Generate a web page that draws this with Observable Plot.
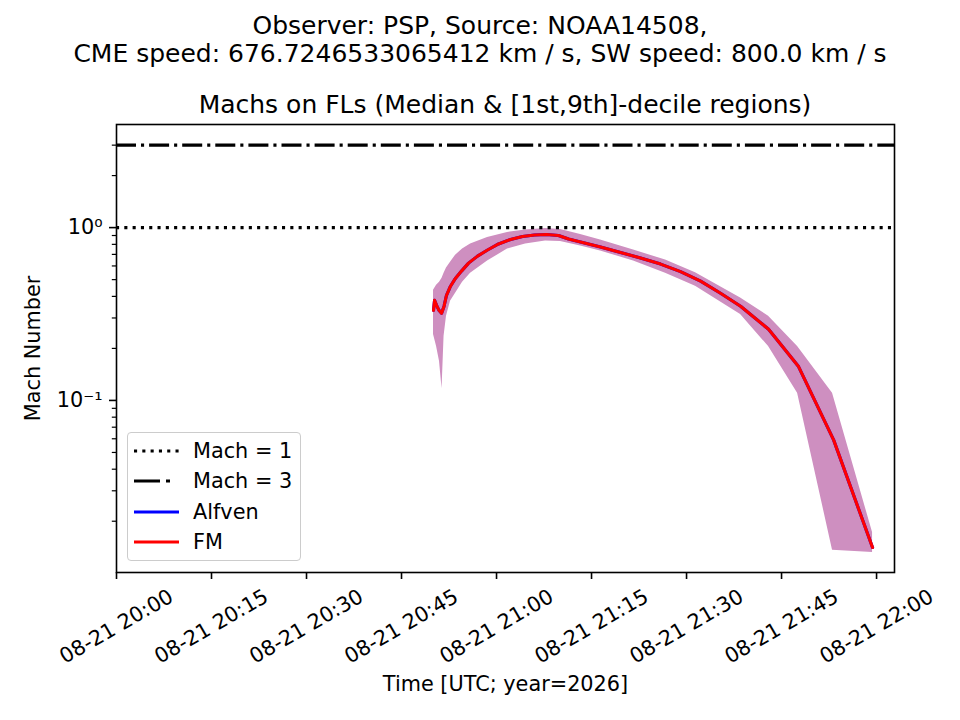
<!DOCTYPE html>
<html>
<head>
<meta charset="utf-8">
<script src="https://cdn.jsdelivr.net/npm/d3@7"></script>
<script src="https://cdn.jsdelivr.net/npm/@observablehq/plot@0.6"></script>
<style>
  body { margin: 0; background: #fff; font-family: "DejaVu Sans", sans-serif; }
  #wrap { position: relative; width: 960px; height: 720px; overflow: hidden; }
  #chart { position: absolute; left: 0; top: 0; }
  .t { position: absolute; text-align: center; font-size: 25px; line-height: 28px; color: #000; white-space: nowrap; }
  #legend { position: absolute; left: 127px; top: 432px; width: 172px; height: 127px;
            border: 1px solid #cccccc; border-radius: 4px; background: rgba(255,255,255,0.8); }
  .row { position: absolute; left: 0; height: 30px; width: 172px; }
  .row svg { position: absolute; left: 5px; top: 0; }
  .row span { position: absolute; left: 65px; top: 0; font-size: 20.8px; line-height: 30px; color: #000; }
</style>
</head>
<body>
<div id="wrap">
  <div id="chart"></div>
  <div class="t" style="left:0;width:960px;top:12px">Observer: PSP, Source: NOAA14508,<br>CME speed: 676.7246533065412 km / s, SW speed: 800.0 km / s</div>
  <div class="t" style="left:116px;width:778px;top:91px">Machs on FLs (Median &amp; [1st,9th]-decile regions)</div>
  <div id="legend"></div>
</div>
<script>
// ---- data ----
const bandTimes = ["20:50:03","20:50:32","20:51:00","20:51:24","20:51:43","20:52:06","20:52:44","20:53:32","20:54:38","20:55:54","20:58:35","21:01:44","21:04:35","21:07:44","21:10:06","21:13:16","21:16:25","21:21:38","21:26:41","21:31:25","21:38:32","21:42:57","21:47:32","21:53:03","21:59:22"];
const bandHigh = [0.434,0.464,0.483,0.510,0.545,0.583,0.631,0.693,0.752,0.804,0.877,0.938,0.970,0.989,0.976,0.913,0.848,0.742,0.649,0.548,0.392,0.307,0.205,0.110,0.0172];
const bandLow  = [0.241,0.205,0.168,0.117,0.235,0.307,0.375,0.417,0.483,0.545,0.640,0.752,0.804,0.837,0.832,0.783,0.733,0.640,0.545,0.458,0.314,0.205,0.110,0.0136,0.0132];

const medTimes = ["20:50:03","20:50:13","20:50:32","20:50:55","20:51:19","20:51:43","20:52:06","20:52:44","20:53:32","20:54:28","20:55:35","20:57:00","20:58:35","21:00:19","21:02:13","21:04:06","21:06:00","21:07:54","21:09:47","21:11:22","21:13:16","21:16:25","21:19:35","21:22:44","21:25:54","21:29:03","21:32:13","21:35:22","21:38:32","21:42:57","21:47:41","21:53:13","21:59:22"];
const fmMedian     = [0.332,0.380,0.355,0.332,0.319,0.351,0.406,0.458,0.510,0.560,0.623,0.684,0.742,0.804,0.854,0.889,0.907,0.913,0.901,0.860,0.826,0.773,0.718,0.667,0.615,0.556,0.490,0.417,0.351,0.258,0.157,0.0591,0.0141];
const alfvenMedian = [0.332,0.380,0.355,0.332,0.319,0.351,0.406,0.458,0.510,0.560,0.623,0.684,0.742,0.804,0.854,0.889,0.907,0.913,0.901,0.860,0.826,0.773,0.718,0.667,0.615,0.556,0.490,0.417,0.351,0.258,0.157,0.0591,0.0141];

const xTickTimes = ["20:00:00","20:15:00","20:30:00","20:45:00","21:00:00","21:15:00","21:30:00","21:45:00","22:00:00"];
const xDomain = ["20:00:00","22:02:50"];
const yDomain = [0.0101, 3.95];
const yMajorTicks = [0.1, 1];
const yMajorLabels = ["10⁻¹", "10⁰"];
const yMinorTicks = [0.02,0.03,0.04,0.05,0.06,0.07,0.08,0.09,0.2,0.3,0.4,0.5,0.6,0.7,0.8,0.9,2,3];
const machLevels = [1, 3];
const legendLabels = ["Mach = 1", "Mach = 3", "Alfven", "FM"];

// ---- build ----
const parse = s => new Date(`2026-08-21T${s}Z`);
const band = bandTimes.map((t, i) => ({t: parse(t), lo: bandLow[i], hi: bandHigh[i]}));
const fm = medTimes.map((t, i) => ({t: parse(t), v: fmMedian[i]}));
const alf = medTimes.map((t, i) => ({t: parse(t), v: alfvenMedian[i]}));
const xTicks = xTickTimes.map(parse);
const fmtHM = d3.utcFormat("%H:%M");

const chart = Plot.plot({
  width: 960, height: 720,
  marginLeft: 116, marginRight: 66, marginTop: 124, marginBottom: 148,
  style: {fontFamily: "DejaVu Sans", fontSize: "20.8px", background: "white", color: "black", overflow: "visible"},
  x: {type: "utc", domain: xDomain.map(parse), label: null},
  y: {type: "log", domain: yDomain, label: null},
  marks: [
    Plot.areaY(band, {x: "t", y1: "lo", y2: "hi", fill: "#ce8fc0", curve: "linear"}),
    Plot.ruleY([machLevels[0]], {stroke: "black", strokeWidth: 3.1, strokeDasharray: "3.1,5.2"}),
    Plot.ruleY([machLevels[1]], {stroke: "black", strokeWidth: 3.1, strokeDasharray: "20,5,3.1,5"}),
    Plot.line(alf, {x: "t", y: "v", stroke: "#0000ff", strokeWidth: 3.1, curve: "linear"}),
    Plot.line(fm, {x: "t", y: "v", stroke: "#ff0000", strokeWidth: 3.1, curve: "linear"}),
    Plot.frame({stroke: "black", strokeWidth: 1.6}),
    Plot.axisX(xTicks, {tickSize: 7, tickFormat: () => "", strokeWidth: 1.6, label: null}),
    Plot.text(xTicks, {x: d => d, frameAnchor: "bottom", dy: 54, rotate: -30,
      text: d => "08-21 " + fmtHM(d), textAnchor: "middle", lineAnchor: "middle", fontSize: 20.8}),
    Plot.axisY(yMajorTicks, {tickSize: 7, tickPadding: 7, strokeWidth: 1.6, label: null, fontSize: 20.8,
      tickFormat: d => yMajorLabels[yMajorTicks.indexOf(d)]}),
    Plot.axisY(yMinorTicks, {tickSize: 4.2, strokeWidth: 1.2, tickFormat: () => "", label: null}),
    Plot.text(["Mach Number"], {frameAnchor: "left", dx: -83, rotate: -90, textAnchor: "middle", fontSize: 20.8}),
    Plot.text(["Time [UTC; year=2026]"], {frameAnchor: "bottom", dy: 118, fontSize: 20.8})
  ]
});
document.getElementById("chart").appendChild(chart);

// ---- legend ----
const legendStyles = [
  {stroke: "black", dash: "3.1,5.2"},
  {stroke: "black", dash: "26,6,4,20"},
  {stroke: "#0000ff", dash: null},
  {stroke: "#ff0000", dash: null}
];
const rowTops = [3, 33, 64, 94];
const leg = document.getElementById("legend");
legendLabels.forEach((lab, i) => {
  const row = document.createElement("div");
  row.className = "row";
  row.style.top = rowTops[i] + "px";
  const s = legendStyles[i];
  row.innerHTML = `<svg width="50" height="30"><line x1="1" x2="46" y1="15" y2="15" stroke="${s.stroke}" stroke-width="3.1" ${s.dash ? `stroke-dasharray="${s.dash}"` : ""}/></svg><span>${lab}</span>`;
  leg.appendChild(row);
});
</script>
</body>
</html>
